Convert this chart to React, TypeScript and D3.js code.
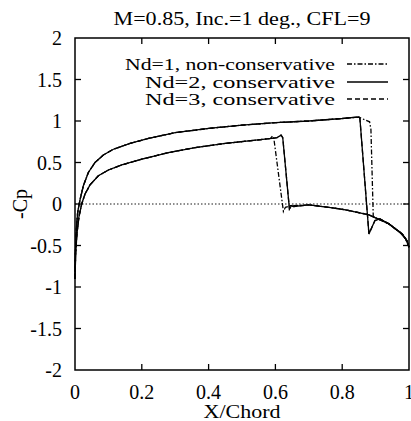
import React from "react";
import * as d3 from "d3";

type P = [number, number];

const titleText = "M=0.85, Inc.=1 deg., CFL=9";
const xLabel = "X/Chord";
const yLabel = "-Cp";
const xTicks = [0, 0.2, 0.4, 0.6, 0.8, 1];
const yTicks = [-2, -1.5, -1, -0.5, 0, 0.5, 1, 1.5, 2];
const seriesNames = ["Nd=1, non-conservative", "Nd=2, conservative", "Nd=3, conservative"];

// Nd=2 (solid)
const nd2Upper: P[] = [
  [0, -0.9], [0.001, -0.6], [0.004, -0.3], [0.008, -0.1], [0.015, 0.05], [0.025, 0.22],
  [0.04, 0.38], [0.06, 0.5], [0.085, 0.59], [0.115, 0.66], [0.165, 0.73], [0.22, 0.79],
  [0.3, 0.86], [0.4, 0.91], [0.5, 0.95], [0.6, 0.98], [0.7, 1.0], [0.8, 1.03], [0.85, 1.05],
  [0.853, 1.03], [0.88, -0.36], [0.898, -0.2], [0.913, -0.18], [0.94, -0.24], [0.96, -0.3],
  [0.98, -0.36], [0.995, -0.45], [1.0, -0.52],
];
const nd2Lower: P[] = [
  [0, -0.9], [0.002, -0.6], [0.006, -0.35], [0.012, -0.15], [0.02, 0.0], [0.03, 0.12],
  [0.045, 0.23], [0.07, 0.34], [0.1, 0.41], [0.14, 0.47], [0.2, 0.54], [0.28, 0.62],
  [0.36, 0.68], [0.45, 0.73], [0.52, 0.76], [0.59, 0.79], [0.605, 0.8], [0.617, 0.83],
  [0.622, 0.8], [0.642, -0.06], [0.648, -0.02], [0.655, -0.03], [0.7, -0.01], [0.76, -0.04],
  [0.81, -0.07], [0.88, -0.13], [0.94, -0.24], [0.975, -0.35], [0.99, -0.42], [1.0, -0.52],
];
// Nd=1 (dash-dot)
const nd1Upper: P[] = [
  [0, -0.9], [0.001, -0.6], [0.004, -0.3], [0.008, -0.1], [0.015, 0.05], [0.025, 0.22],
  [0.04, 0.38], [0.06, 0.5], [0.085, 0.59], [0.115, 0.66], [0.165, 0.73], [0.22, 0.79],
  [0.3, 0.86], [0.4, 0.91], [0.5, 0.95], [0.6, 0.98], [0.7, 1.0], [0.8, 1.03], [0.85, 1.045],
  [0.882, 0.99], [0.886, 0.9], [0.893, -0.15], [0.905, -0.18], [0.913, -0.18], [0.94, -0.24],
  [0.96, -0.3], [0.98, -0.36], [0.995, -0.45], [1.0, -0.52],
];
const nd1Lower: P[] = [
  [0, -0.9], [0.002, -0.6], [0.006, -0.35], [0.012, -0.15], [0.02, 0.0], [0.03, 0.12],
  [0.045, 0.23], [0.07, 0.34], [0.1, 0.41], [0.14, 0.47], [0.2, 0.54], [0.28, 0.62],
  [0.36, 0.68], [0.45, 0.73], [0.52, 0.76], [0.585, 0.79], [0.592, 0.82], [0.596, 0.77],
  [0.624, -0.09], [0.63, -0.04], [0.645, -0.02], [0.7, -0.01], [0.76, -0.04],
  [0.81, -0.07], [0.88, -0.13], [0.94, -0.24], [0.975, -0.35], [0.99, -0.42], [1.0, -0.52],
];
// Nd=3 (dashed) - nearly coincident with Nd=2
const nd3Upper: P[] = nd2Upper;
const nd3Lower: P[] = nd2Lower;

const W = 411;
const H = 421;
const left = 75;
const right = 409;
const top = 38;
const bottom = 370;

const font = "Liberation Serif";

export default function App() {
  const x = d3.scaleLinear().domain([0, 1]).range([left, right]);
  const y = d3.scaleLinear().domain([-2, 2]).range([bottom, top]);
  const line = d3.line<P>().x((d) => x(d[0])).y((d) => y(d[1]));
  const dashes = ["5,2,1.5,2", "", "5,3"];
  const series = [
    { up: nd3Upper, lo: nd3Lower, dash: dashes[2] },
    { up: nd2Upper, lo: nd2Lower, dash: dashes[1] },
    { up: nd1Upper, lo: nd1Lower, dash: dashes[0] },
  ];
  const tl = 6;
  const legendY = [64, 82, 99];
  return (
    <svg width={W} height={H} style={{ position: "absolute", left: 0, top: 0, background: "#fff" }}>
      <rect x={0} y={0} width={W} height={H} fill="#fff" />
      <text x={(left + right) / 2} y={25} textAnchor="middle" fontFamily={font} fontSize={18}
        textLength={257} lengthAdjust="spacingAndGlyphs">{titleText}</text>
      <line x1={left} x2={right} y1={y(0)} y2={y(0)} stroke="#000" strokeWidth={0.9} strokeDasharray="1.5,2" />
      {series.map((s, i) => (
        <g key={i} fill="none" stroke="#000" strokeWidth={1.3} strokeDasharray={s.dash || undefined}>
          <path d={line(s.up) || ""} />
          <path d={line(s.lo) || ""} />
        </g>
      ))}
      {xTicks.map((t) => (
        <g key={"x" + t}>
          {t > 0 && t < 1 && (
            <>
              <line x1={x(t)} x2={x(t)} y1={bottom} y2={bottom - tl} stroke="#000" strokeWidth={1.3} />
              <line x1={x(t)} x2={x(t)} y1={top} y2={top + tl} stroke="#000" strokeWidth={1.3} />
            </>
          )}
          <text x={x(t)} y={399} textAnchor="middle" fontFamily={font} fontSize={20}>{String(t)}</text>
        </g>
      ))}
      {yTicks.map((t) => (
        <g key={"y" + t}>
          {t > -2 && t < 2 && (
            <>
              <line x1={left} x2={left + tl} y1={y(t)} y2={y(t)} stroke="#000" strokeWidth={1.3} />
              <line x1={right} x2={right - tl} y1={y(t)} y2={y(t)} stroke="#000" strokeWidth={1.3} />
            </>
          )}
          <text x={62} y={y(t)} dy="0.35em" textAnchor="end" fontFamily={font} fontSize={20}>{String(t)}</text>
        </g>
      ))}
      <rect x={left} y={top} width={right - left} height={bottom - top} fill="none" stroke="#000" strokeWidth={1.5} />
      <text x={(left + right) / 2} y={418} textAnchor="middle" fontFamily={font} fontSize={19}
        textLength={77} lengthAdjust="spacingAndGlyphs">{xLabel}</text>
      <text transform={`translate(27,${(top + bottom) / 2}) rotate(-90)`} textAnchor="middle" fontFamily={font} fontSize={20}>{yLabel}</text>
      {seriesNames.map((n, i) => (
        <g key={n}>
          <text x={335} y={legendY[i] + 6} textAnchor="end" fontFamily={font} fontSize={17}
            textLength={i === 0 ? 210 : 190} lengthAdjust="spacingAndGlyphs">{n}</text>
          <line x1={347} x2={388} y1={legendY[i]} y2={legendY[i]} stroke="#000" strokeWidth={1.3}
            strokeDasharray={dashes[i] || undefined} />
        </g>
      ))}
    </svg>
  );
}
